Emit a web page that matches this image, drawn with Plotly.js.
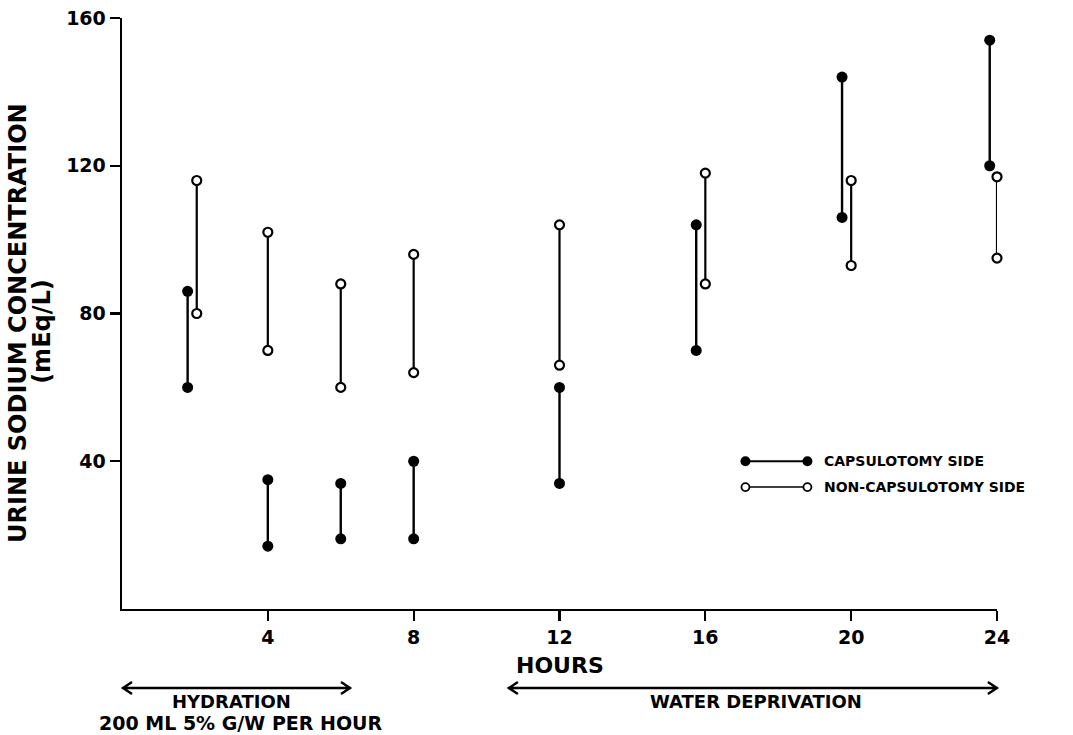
<!DOCTYPE html>
<html>
<head>
<meta charset="utf-8">
<script src="https://cdn.plot.ly/plotly-3.0.1.min.js"></script>
<style>html,body{margin:0;padding:0;background:#fff;}#chart{width:1073px;height:735px;}</style>
</head>
<body>
<div id="chart"></div>
<script>
// Capsulotomy side (filled circles)
const capHours = [1.8, 4, 6, 8, 12, 15.75, 19.75, 23.8];
const capHigh  = [86, 35, 34, 40, 60, 104, 144, 154];
const capLow   = [60, 17, 19, 19, 34, 70, 106, 120];
// Non-capsulotomy side (open circles)
const nonHours = [2.05, 4, 6, 8, 12, 16, 20, 24];
const nonHigh  = [116, 102, 88, 96, 104, 118, 116, 117];
const nonLow   = [80, 70, 60, 64, 66, 88, 93, 95];

const xTicks = [4, 8, 12, 16, 20, 24];
const yTicks = [40, 80, 120, 160];

function pairs(xs, hi, lo) {
  const x = [], y = [];
  xs.forEach((h, i) => { x.push(h, h, null); y.push(hi[i], lo[i], null); });
  return {x, y};
}
const cap = pairs(capHours, capHigh, capLow);
const non = pairs(nonHours, nonHigh, nonLow);

const F = 'DejaVu Sans, Liberation Sans, sans-serif';

const traces = [
  {x: cap.x, y: cap.y, mode: 'lines+markers', type: 'scatter', name: 'CAPSULOTOMY SIDE',
   line: {color: '#000', width: 2.4}, cliponaxis: false,
   marker: {symbol: 'circle', size: 11, color: '#000', line: {width: 0}}},
  {x: non.x, y: non.y, mode: 'lines+markers', type: 'scatter', name: 'NON-CAPSULOTOMY SIDE',
   line: {color: '#000', width: 2.2}, cliponaxis: false,
   marker: {symbol: 'circle', size: 9, color: '#fff', line: {width: 2.2, color: '#000'}}}
];

function circ(x, y, r, filled) {
  return {type: 'circle', xref: 'x', yref: 'y', xsizemode: 'pixel', ysizemode: 'pixel',
    xanchor: x, yanchor: y, x0: -r, x1: r, y0: -r, y1: r,
    fillcolor: filled ? '#000' : '#fff', line: {color: '#000', width: filled ? 0 : 1.8}};
}
function arrow(x0p, widthPx, yp) {
  const w = widthPx;
  return {type: 'path', xref: 'paper', yref: 'paper', xsizemode: 'pixel', ysizemode: 'pixel',
    xanchor: x0p, yanchor: yp,
    path: `M0,0 L${w},0 M10,6 L1,0 L10,-6 M${w-10},6 L${w-1},0 L${w-10},-6`,
    line: {color: '#000', width: 2.4}};
}

const shapes = [
  {type: 'line', xref: 'x', yref: 'y', x0: 17.1, x1: 18.8, y0: 40, y1: 40, line: {color: '#000', width: 2}},
  circ(17.1, 40, 5, true), circ(18.8, 40, 5, true),
  {type: 'line', xref: 'x', yref: 'y', x0: 17.1, x1: 18.8, y0: 33, y1: 33, line: {color: '#000', width: 1.5}},
  circ(17.1, 33, 4, false), circ(18.8, 33, 4, false),
  arrow(0, 229, -0.1337),
  arrow(0.441, 490, -0.1337)
];

const ann = (text, x, y, size, extra) => Object.assign({text, x, y, xref: 'paper', yref: 'paper',
  xanchor: 'center', yanchor: 'middle',
  showarrow: false, font: {family: F, size, color: '#000', weight: 'bold'}}, extra || {});

const annotations = [
  ann('URINE SODIUM CONCENTRATION', -0.1189, 0.484, 24, {textangle: -90}),
  ann('(mEq/L)', -0.0914, 0.469, 24, {textangle: -90}),
  ann('HOURS', 0.50, -0.0948, 22),
  ann('HYDRATION', 0.1257, -0.1565, 18),
  ann('200 ML 5% G/W PER HOUR', 0.136, -0.193, 19),
  ann('WATER DEPRIVATION', 0.7246, -0.1557, 18),
  {text: 'CAPSULOTOMY SIDE', x: 19.2, y: 40, xref: 'x', yref: 'y', xanchor: 'left', yanchor: 'middle', showarrow: false,
   font: {family: F, size: 14, color: '#000', weight: 'bold'}},
  {text: 'NON-CAPSULOTOMY SIDE', x: 19.2, y: 33, xref: 'x', yref: 'y', xanchor: 'left', yanchor: 'middle', showarrow: false,
   font: {family: F, size: 14, color: '#000', weight: 'bold'}}
];

const layout = {
  width: 1073, height: 735,
  margin: {l: 122, r: 76, t: 18, b: 126},
  paper_bgcolor: '#fff', plot_bgcolor: '#fff',
  showlegend: false,
  xaxis: {range: [0, 24], tickvals: xTicks, ticktext: xTicks.map(String), showgrid: false, zeroline: false,
    showline: true, linecolor: '#000', linewidth: 2.4, ticks: 'outside', ticklen: 10, tickwidth: 2.2, tickcolor: '#000',
    tickfont: {family: F, size: 19, color: '#000', weight: 'bold'}, fixedrange: true},
  yaxis: {range: [0, 160], tickvals: yTicks, ticktext: yTicks.map(String), showgrid: false, zeroline: false,
    showline: true, linecolor: '#000', linewidth: 2.4, ticks: 'outside', ticklen: 10, tickwidth: 2.2, tickcolor: '#000',
    tickfont: {family: F, size: 19, color: '#000', weight: 'bold'}, fixedrange: true},
  shapes, annotations
};

Plotly.newPlot('chart', traces, layout, {displayModeBar: false, staticPlot: true});
</script>
</body>
</html>
